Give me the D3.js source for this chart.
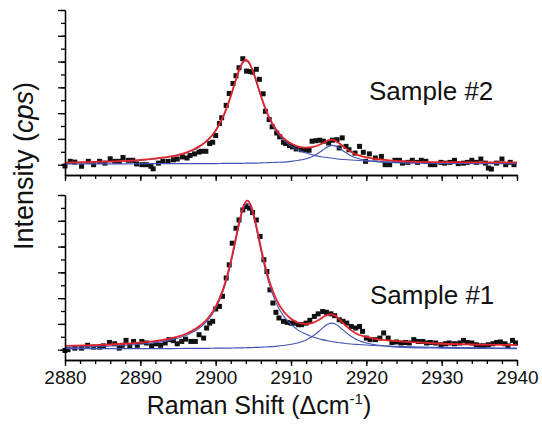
<!DOCTYPE html>
<html>
<head>
<meta charset="utf-8">
<script src="https://cdn.jsdelivr.net/npm/d3@7"></script>
<style>
  body { margin: 0; background: #fff; }
  svg { display: block; font-family: "Liberation Sans", Arial, sans-serif; }
</style>
</head>
<body>
<svg id="chart" width="542" height="425"></svg>
<script>
// tick labels on the shared x axis
const xTickValues = [2880, 2890, 2900, 2910, 2920, 2930, 2940];
const panelLabels = ['Sample #2', 'Sample #1'];

// Sample #2 (top panel) - measured points
const sample2X = [2880.0, 2880.7, 2881.3, 2882.2, 2883.1, 2883.8, 2884.6, 2885.3, 2886.0, 2886.6,
    2887.2, 2887.7, 2888.4, 2889.0, 2889.5, 2890.2, 2890.8, 2891.4, 2891.7, 2892.4,
    2893.0, 2893.7, 2894.4, 2894.9, 2895.6, 2896.2, 2896.6, 2897.2, 2897.8, 2898.1,
    2898.7, 2899.2, 2899.6, 2900.0, 2900.5, 2900.8, 2901.4, 2901.8, 2902.3, 2902.7,
    2903.1, 2903.6, 2904.1, 2904.6, 2904.9, 2905.4, 2905.8, 2906.3, 2906.6, 2907.1,
    2907.5, 2908.1, 2908.5, 2909.0, 2909.3, 2909.8, 2910.2, 2910.7, 2911.4, 2912.0,
    2912.4, 2912.8, 2913.3, 2913.8, 2914.3, 2915.0, 2915.5, 2916.1, 2916.4, 2916.8,
    2917.3, 2917.7, 2918.5, 2919.1, 2919.6, 2919.9, 2920.4, 2921.2, 2922.0, 2922.5,
    2923.1, 2923.8, 2924.4, 2924.8, 2925.5, 2926.1, 2926.8, 2927.3, 2927.9, 2928.5,
    2929.1, 2929.9, 2930.4, 2931.1, 2931.7, 2932.2, 2932.9, 2933.4, 2934.0, 2934.6,
    2935.2, 2935.8, 2936.2, 2936.6, 2937.3, 2938.0, 2938.5, 2939.1, 2939.6];
const sample2Y = [-0.05, 0.13, 0.10, -0.06, 0.13, 0.00, 0.13, 0.06, 0.23, 0.13,
    0.13, 0.28, 0.17, 0.17, 0.03, 0.00, 0.00, -0.06, -0.16, 0.06,
    0.13, 0.13, 0.19, 0.22, 0.30, 0.26, 0.36, 0.42, 0.49, 0.52,
    0.52, 0.82, 0.87, 1.13, 1.60, 1.82, 2.30, 2.76, 3.15, 3.45,
    3.76, 4.11, 3.63, 3.61, 3.59, 3.70, 3.31, 2.75, 2.07, 1.75,
    1.47, 1.23, 1.08, 0.87, 0.82, 0.74, 0.69, 0.61, 0.58, 0.58,
    0.56, 0.91, 0.93, 0.95, 0.91, 0.84, 0.95, 0.97, 0.65, 1.04,
    0.71, 0.58, 0.45, 0.71, 0.48, 0.13, 0.42, 0.26, 0.32, 0.00,
    0.00, 0.17, 0.17, 0.06, 0.09, 0.17, 0.09, 0.17, 0.13, 0.00,
    0.00, 0.09, 0.06, 0.09, 0.17, 0.04, 0.06, 0.09, 0.17, 0.09,
    0.22, 0.06, -0.13, -0.17, 0.06, 0.22, 0.00, 0.09, 0.00];

// Sample #2 - fitted curve (red) and its two peaks (blue)
const fit2X = [2880, 2884, 2888, 2891, 2894, 2896, 2898, 2899, 2900, 2901,
    2902, 2902.5, 2903, 2903.5, 2904, 2904.5, 2905, 2905.5, 2906, 2907,
    2908, 2909, 2910, 2911, 2912, 2913, 2914, 2914.5, 2915, 2915.5,
    2916, 2916.5, 2917, 2918, 2919, 2920, 2921, 2923, 2926, 2930, 2935, 2940];
const fit2Red = [0.08, 0.11, 0.15, 0.21, 0.32, 0.46, 0.74, 0.97, 1.33, 1.87,
    2.66, 3.13, 3.58, 3.93, 4.06, 3.93, 3.59, 3.15, 2.68, 1.90,
    1.37, 1.03, 0.82, 0.70, 0.66, 0.69, 0.80, 0.88, 0.95, 0.97,
    0.91, 0.81, 0.69, 0.49, 0.36, 0.28, 0.23, 0.17, 0.12, 0.10, 0.09, 0.09];
const fit2PeakA = [0.08, 0.10, 0.14, 0.20, 0.31, 0.45, 0.72, 0.96, 1.31, 1.86,
    2.65, 3.11, 3.56, 3.90, 4.03, 3.90, 3.56, 3.11, 2.65, 1.86,
    1.31, 0.96, 0.72, 0.56, 0.45, 0.37, 0.31, 0.29, 0.27, 0.25,
    0.23, 0.21, 0.20, 0.18, 0.16, 0.14, 0.13, 0.11, 0.09, 0.07, 0.06, 0.05];
const fit2PeakB = [0.03, 0.03, 0.03, 0.04, 0.04, 0.04, 0.04, 0.04, 0.04, 0.05,
    0.05, 0.05, 0.05, 0.05, 0.06, 0.06, 0.06, 0.06, 0.07, 0.08,
    0.09, 0.10, 0.13, 0.17, 0.23, 0.34, 0.52, 0.63, 0.71, 0.75,
    0.71, 0.63, 0.52, 0.34, 0.23, 0.17, 0.13, 0.09, 0.06, 0.05, 0.04, 0.04];

// Sample #1 (bottom panel) - measured points
const sample1X = [2880.0, 2880.4, 2881.3, 2882.2, 2883.0, 2883.8, 2884.6, 2885.1, 2885.9, 2886.6,
    2887.2, 2887.6, 2888.1, 2888.6, 2889.1, 2889.6, 2890.2, 2890.8, 2891.5, 2892.1,
    2892.7, 2893.3, 2893.8, 2894.4, 2894.9, 2895.5, 2896.0, 2896.7, 2897.3, 2897.8,
    2898.4, 2898.8, 2899.2, 2899.6, 2900.0, 2900.5, 2900.9, 2901.4, 2901.8, 2902.2,
    2902.7, 2903.1, 2903.6, 2904.0, 2904.5, 2904.9, 2905.4, 2905.9, 2906.4, 2906.8,
    2907.2, 2907.6, 2908.0, 2908.4, 2909.0, 2909.5, 2910.0, 2910.4, 2911.0, 2911.4,
    2912.0, 2912.5, 2913.1, 2913.6, 2914.2, 2914.7, 2915.3, 2915.8, 2916.4, 2916.9,
    2917.4, 2918.0, 2918.6, 2919.1, 2919.5, 2920.0, 2920.5, 2921.2, 2921.8, 2922.3,
    2922.9, 2923.4, 2924.0, 2924.6, 2925.2, 2925.7, 2926.3, 2926.9, 2927.5, 2928.0,
    2928.5, 2929.2, 2929.9, 2930.5, 2931.0, 2931.7, 2932.4, 2932.9, 2933.4, 2934.0,
    2934.6, 2935.1, 2935.6, 2936.2, 2936.8, 2937.3, 2937.8, 2938.4, 2938.8, 2939.4, 2939.8];
const sample1Y = [-0.03, 0.00, 0.06, 0.06, 0.17, 0.10, 0.10, 0.15, 0.28, 0.23,
    0.06, 0.17, 0.36, 0.13, 0.32, 0.17, 0.32, 0.26, 0.15, 0.23,
    0.17, 0.26, 0.39, 0.35, 0.23, 0.32, 0.41, 0.32, 0.32, 0.58,
    0.45, 0.84, 1.03, 1.10, 1.58, 1.68, 2.07, 2.78, 3.29, 4.13,
    4.71, 5.03, 5.42, 5.55, 5.49, 5.32, 5.03, 4.39, 3.49, 3.03,
    2.32, 1.81, 1.45, 1.23, 1.10, 1.06, 1.03, 1.03, 0.97, 0.97,
    1.03, 1.14, 1.29, 1.39, 1.48, 1.45, 1.39, 1.32, 1.16, 1.10,
    1.03, 0.90, 0.84, 0.90, 0.71, 0.45, 0.39, 0.39, 0.45, 0.65,
    0.45, 0.28, 0.30, 0.26, 0.28, 0.26, 0.39, 0.32, 0.32, 0.26,
    0.28, 0.26, 0.19, 0.23, 0.26, 0.23, 0.26, 0.36, 0.28, 0.26,
    0.19, 0.15, 0.15, 0.19, 0.23, 0.28, 0.30, 0.23, 0.15, 0.36, 0.26];

// Sample #1 - fitted curve (red) and its two peaks (blue)
const fit1X = [2880, 2884, 2888, 2891, 2894, 2896, 2898, 2899, 2900, 2901,
    2902, 2902.7, 2903.2, 2903.7, 2904.2, 2904.7, 2905.2, 2905.7, 2906.2, 2907,
    2908, 2909, 2910, 2911, 2912, 2913, 2914, 2914.6, 2915, 2915.4,
    2915.8, 2916.2, 2917, 2918, 2919, 2920, 2921, 2923, 2926, 2930, 2935, 2940];
const fit1Red = [0.15, 0.18, 0.23, 0.30, 0.44, 0.61, 0.95, 1.23, 1.67, 2.36,
    3.41, 4.36, 5.04, 5.57, 5.78, 5.58, 5.06, 4.38, 3.70, 2.78,
    1.98, 1.49, 1.20, 1.04, 1.00, 1.05, 1.21, 1.32, 1.36, 1.37,
    1.33, 1.24, 1.01, 0.75, 0.58, 0.50, 0.43, 0.36, 0.29, 0.23, 0.20, 0.18];
const fit1PeakA = [0.09, 0.12, 0.17, 0.24, 0.37, 0.55, 0.88, 1.16, 1.60, 2.28,
    3.32, 4.27, 4.95, 5.48, 5.68, 5.48, 4.95, 4.27, 3.58, 2.65,
    1.83, 1.31, 0.98, 0.75, 0.60, 0.48, 0.40, 0.36, 0.34, 0.32,
    0.30, 0.28, 0.25, 0.22, 0.20, 0.18, 0.16, 0.14, 0.11, 0.09, 0.07, 0.06];
const fit1PeakB = [0.04, 0.04, 0.04, 0.04, 0.04, 0.05, 0.05, 0.05, 0.06, 0.06,
    0.06, 0.07, 0.07, 0.07, 0.08, 0.08, 0.09, 0.09, 0.10, 0.11,
    0.13, 0.16, 0.21, 0.27, 0.38, 0.55, 0.79, 0.94, 1.01, 1.03,
    1.01, 0.94, 0.74, 0.51, 0.36, 0.26, 0.20, 0.13, 0.08, 0.06, 0.05, 0.04];

const width = 542;
const height = 425;
const red = '#e3232c';
const blue = '#4254b4';

const svg = d3.select('#chart');

// Shared x scale
const x = d3.scaleLinear()
    .domain([2880, 2940])
    .range([65, 517]);

const panels = [
    { top: 10, bottom: 175, label: panelLabels[0], labelX: 369, labelY: 100, showLabels: false,
      pts: d3.zip(sample2X, sample2Y), fx: fit2X, red: fit2Red, a: fit2PeakA, b: fit2PeakB },
    { top: 195, bottom: 360, label: panelLabels[1], labelX: 370, labelY: 304, showLabels: true,
      pts: d3.zip(sample1X, sample1Y), fx: fit1X, red: fit1Red, a: fit1PeakA, b: fit1PeakB }
];

function styleAxis(g) {
    g.selectAll('path, line').attr('stroke', '#000').attr('stroke-width', 1.3);
}

panels.forEach(p => {
    const y = d3.scaleLinear()
        .domain([-0.4, 6])
        .range([p.bottom, p.top]);

    const line = vals => d3.line()
        .x((d, i) => x(p.fx[i]))
        .y(d => y(d))
        .curve(d3.curveMonotoneX)(vals);

    const g = svg.append('g');

    // Data points (squares)
    g.append('g')
        .selectAll('rect')
        .data(p.pts)
        .enter().append('rect')
        .attr('x', d => x(d[0]) - 2.5)
        .attr('y', d => y(d[1]) - 2.5)
        .attr('width', 5)
        .attr('height', 5)
        .attr('fill', '#111');

    // Two fitted peaks
    [p.a, p.b].forEach(vals => {
        g.append('path')
            .attr('d', line(vals))
            .attr('fill', 'none')
            .attr('stroke', blue)
            .attr('stroke-width', 1.1);
    });

    // Cumulative fit
    g.append('path')
        .attr('d', line(p.red))
        .attr('fill', 'none')
        .attr('stroke', red)
        .attr('stroke-width', 1.8);

    // Left axis: major + minor ticks, no labels
    g.append('g')
        .attr('transform', `translate(${x(2880)},0)`)
        .call(d3.axisLeft(y).tickValues(d3.range(0, 6.01, 0.5)).tickSize(4).tickSizeOuter(0).tickFormat(''))
        .call(styleAxis);
    g.append('g')
        .attr('transform', `translate(${x(2880)},0)`)
        .call(d3.axisLeft(y).tickValues(d3.range(0, 7, 1)).tickSize(7).tickSizeOuter(0).tickFormat(''))
        .call(styleAxis);

    // Bottom axis
    g.append('g')
        .attr('transform', `translate(0,${p.bottom})`)
        .call(d3.axisBottom(x).ticks(30).tickSize(4).tickSizeOuter(0).tickFormat(''))
        .call(styleAxis);
    const xa = g.append('g')
        .attr('transform', `translate(0,${p.bottom})`)
        .call(d3.axisBottom(x).tickValues(xTickValues).tickSize(6).tickPadding(5).tickSizeOuter(0)
            .tickFormat(p.showLabels ? d3.format('d') : ''))
        .call(styleAxis);
    xa.selectAll('text')
        .attr('fill', '#111')
        .style('font-size', '19px');

    // Sample label
    g.append('text')
        .attr('x', p.labelX)
        .attr('y', p.labelY)
        .attr('fill', '#111')
        .style('font-size', '26px')
        .text(p.label);
});

// Axis titles
const yTitle = svg.append('text')
    .attr('transform', 'translate(33,166) rotate(-90)')
    .attr('text-anchor', 'middle')
    .attr('fill', '#111')
    .style('font-size', '27px');
yTitle.append('tspan').text('Intensity (');
yTitle.append('tspan').style('font-style', 'italic').text('cps');
yTitle.append('tspan').text(')');

const xTitle = svg.append('text')
    .attr('x', 259)
    .attr('y', 414)
    .attr('text-anchor', 'middle')
    .attr('fill', '#111')
    .style('font-size', '25px');
xTitle.append('tspan').text('Raman Shift (\u0394cm');
xTitle.append('tspan').attr('dy', -10).style('font-size', '15px').text('-1');
xTitle.append('tspan').attr('dy', 10).text(')');
</script>
</body>
</html>
